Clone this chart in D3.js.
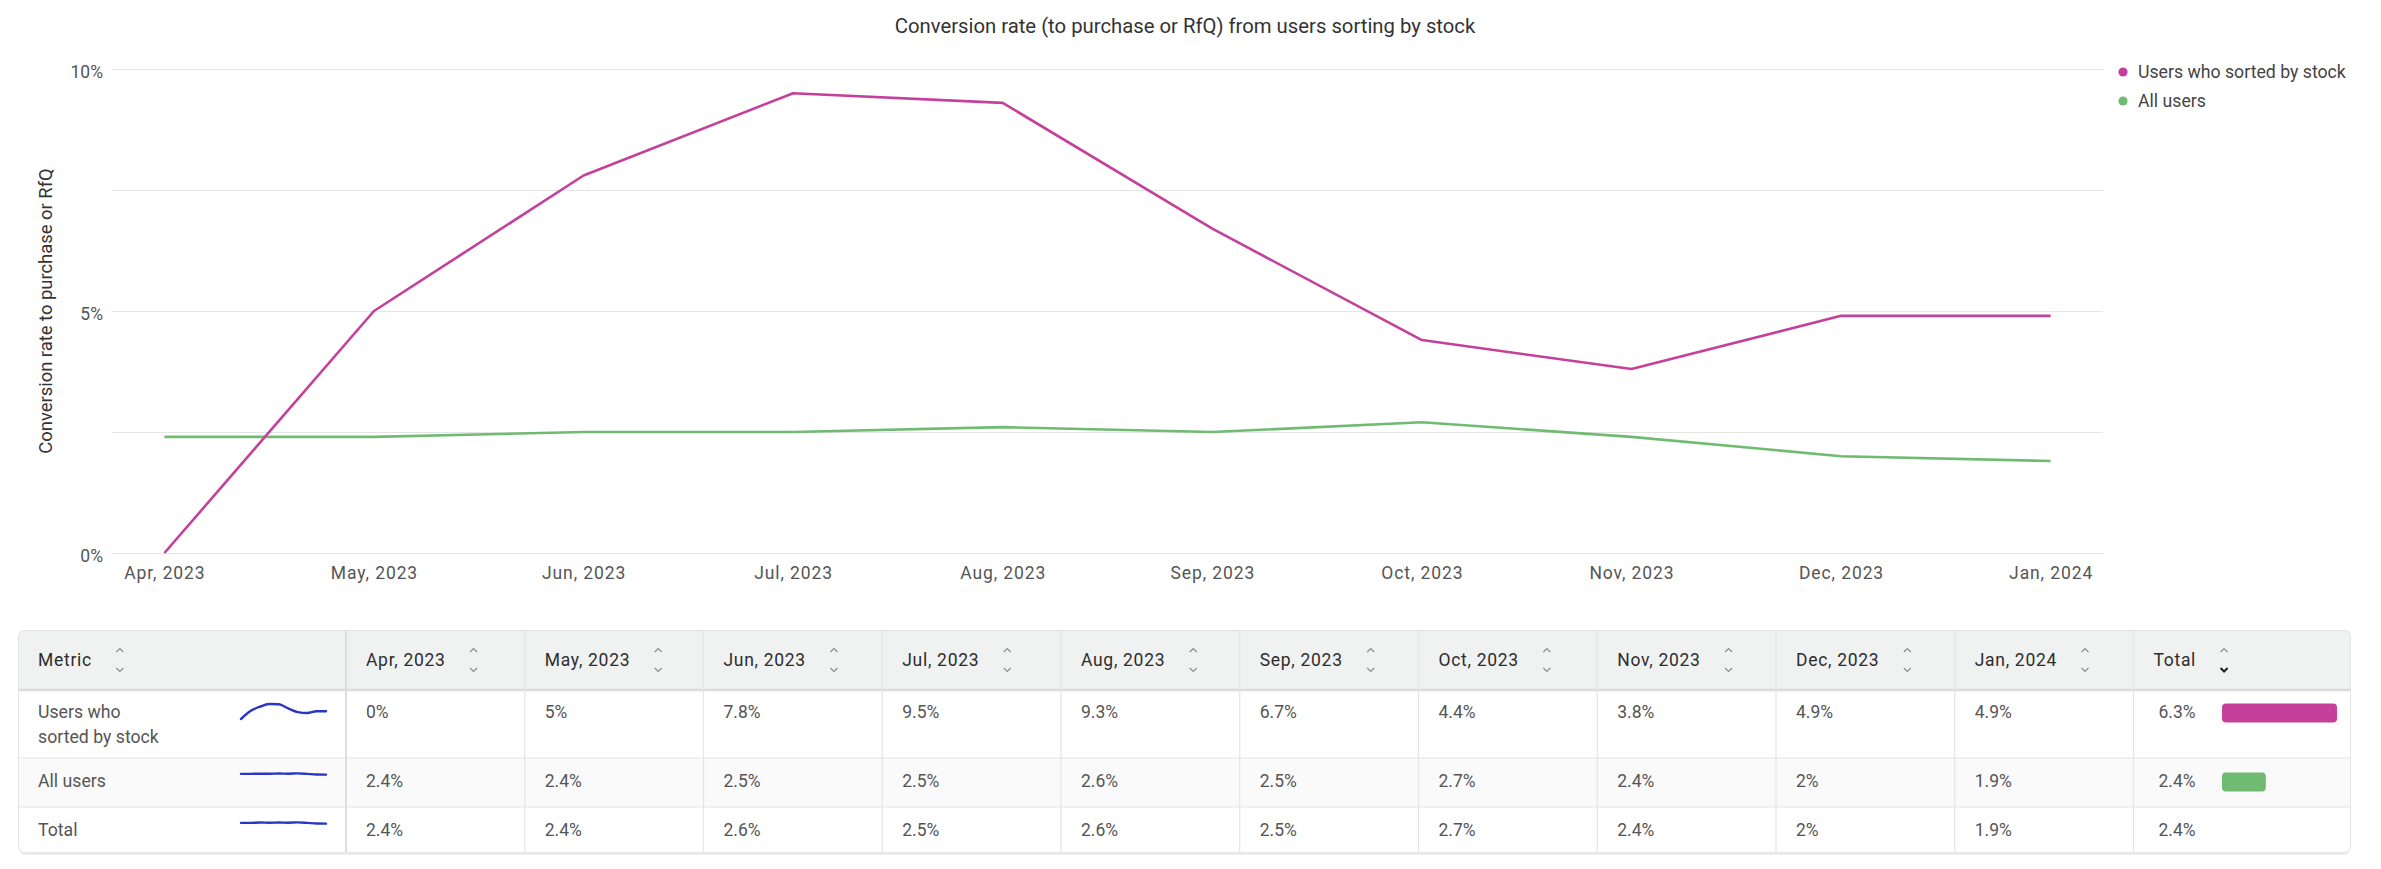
<!DOCTYPE html>
<html><head><meta charset="utf-8">
<script src="https://cdn.jsdelivr.net/npm/d3@7"></script>
<style>
html,body{margin:0;padding:0;background:#fff;}
svg{display:block;}
text{font-family:Roboto,"Noto Sans",sans-serif;}
</style></head><body>
<svg id="c" width="2381" height="869"></svg>
<script>
// ---------- data ----------
const months = ["Apr, 2023","May, 2023","Jun, 2023","Jul, 2023","Aug, 2023","Sep, 2023","Oct, 2023","Nov, 2023","Dec, 2023","Jan, 2024"];
const sortedByStock = [0, 5, 7.8, 9.5, 9.3, 6.7, 4.4, 3.8, 4.9, 4.9];
const allUsers      = [2.4, 2.4, 2.5, 2.5, 2.6, 2.5, 2.7, 2.4, 2, 1.9];
const totalRow      = [2.4, 2.4, 2.6, 2.5, 2.6, 2.5, 2.7, 2.4, 2, 1.9];
const rowTotals     = [6.3, 2.4, 2.4];
const seriesNames   = ["Users who sorted by stock", "All users"];
const rowNames      = [["Users who","sorted by stock"], ["All users"], ["Total"]];
const yTicks        = [0, 2.5, 5, 7.5, 10];
const yTickLabels   = ["0%", "", "5%", "", "10%"];
const title         = "Conversion rate (to purchase or RfQ) from users sorting by stock";
const yTitle        = "Conversion rate to purchase or RfQ";
const colors        = ["#c4409a", "#70bb72"];
const sparkColor    = "#2a34c6";

const svg = d3.select("#c");
const fmt = v => (Math.round(v*10)/10).toString() + "%";

// ---------- chart ----------
const P = {left:112, right:2103, top:69, bottom:553};
const x = d3.scalePoint().domain(months).range([P.left, P.right]).padding(0.25);
const y = d3.scaleLinear().domain([0, 10]).range([P.bottom, P.top]);

svg.append("text").attr("x", 1185).attr("y", 26).attr("text-anchor","middle")
  .attr("dominant-baseline","central").attr("font-size", 20.3).attr("fill","#333").text(title);

const yAxis = svg.append("g").attr("transform", `translate(${P.left},0)`)
  .call(d3.axisLeft(y).tickValues(yTicks).tickFormat((d,i)=>yTickLabels[i])
        .tickSize(-(P.right-P.left)).tickPadding(9));
yAxis.select(".domain").remove();
yAxis.selectAll(".tick line").attr("stroke","#e5e5e5");
yAxis.selectAll(".tick text").attr("font-size",17.5).attr("fill","#555")
  .attr("font-family","Roboto").attr("dy","0.5em");

const xAxis = svg.append("g").attr("transform", `translate(0,${P.bottom})`)
  .call(d3.axisBottom(x).tickSize(0).tickPadding(14));
xAxis.select(".domain").remove();
xAxis.selectAll(".tick text").attr("font-size",17.5).attr("fill","#555").attr("font-family","Roboto")
  .attr("letter-spacing","0.9px");

svg.append("text").attr("transform", `translate(45,${(P.top+P.bottom)/2}) rotate(-90)`)
  .attr("text-anchor","middle").attr("dominant-baseline","central")
  .attr("font-family","'Liberation Sans',Arial,sans-serif").attr("font-size",18.4).attr("fill","#333").text(yTitle);

const line = d3.line().x((d,i)=>x(months[i])).y(d=>y(d));
[allUsers, sortedByStock].forEach((s, k) => {
  const idx = k === 0 ? 1 : 0;
  svg.append("path").datum(s).attr("d", line).attr("fill","none")
    .attr("stroke", colors[idx]).attr("stroke-width", 2.6).attr("stroke-linejoin","round");
});

const lg = svg.append("g");
seriesNames.forEach((n,i) => {
  lg.append("circle").attr("cx",2123).attr("cy",72 + i*29).attr("r",4.6).attr("fill",colors[i]);
  lg.append("text").attr("x",2138).attr("y",72 + i*29).attr("dominant-baseline","central")
    .attr("font-size",17.7).attr("fill","#444").text(n);
});

// ---------- table ----------
const T = {left:18, right:2351, top:630, head:690, bottom:853};
const rowTops = [691, 758, 807];
const rowBots = [758, 807, 853];
const textOff = [21, 23, 23];
const sparkOff = [20.5, 16, 16];
const metricRight = 346;
const col = d3.scaleBand().domain(months).range([metricRight, 2133.5]);
const totalLeft = 2133.5;

const defs = svg.append("defs");
defs.append("clipPath").attr("id","tclip").append("rect")
  .attr("x",T.left).attr("y",T.top).attr("width",T.right-T.left).attr("height",T.bottom-T.top).attr("rx",6);

svg.append("rect").attr("x",T.left+1).attr("y",T.top+2).attr("width",T.right-T.left-2)
  .attr("height",T.bottom-T.top).attr("rx",6).attr("fill","#ececec");
const tg = svg.append("g").attr("clip-path","url(#tclip)");
tg.append("rect").attr("x",T.left).attr("y",T.top).attr("width",T.right-T.left).attr("height",T.bottom-T.top).attr("fill","#fff");
tg.append("rect").attr("x",T.left).attr("y",T.top).attr("width",T.right-T.left).attr("height",T.head-T.top).attr("fill","#f0f1f1");
tg.append("rect").attr("x",T.left).attr("y",rowTops[1]).attr("width",T.right-T.left).attr("height",rowBots[1]-rowTops[1]).attr("fill","#fafafa");

tg.append("line").attr("x1",T.left).attr("x2",T.right).attr("y1",T.head).attr("y2",T.head).attr("stroke","#dcdcdc").attr("stroke-width",2.5);
[rowTops[1], rowTops[2]].forEach(yy => tg.append("line").attr("x1",T.left).attr("x2",T.right).attr("y1",yy).attr("y2",yy).attr("stroke","#e4e4e4").attr("stroke-width",1.2));
tg.append("line").attr("x1",metricRight).attr("x2",metricRight).attr("y1",T.top).attr("y2",T.bottom).attr("stroke","#dedede").attr("stroke-width",2);
months.slice(1).concat(["__total"]).forEach(m => {
  const xx = m === "__total" ? totalLeft : col(m);
  tg.append("line").attr("x1",xx).attr("x2",xx).attr("y1",T.top).attr("y2",T.bottom).attr("stroke","#e4e4e4").attr("stroke-width",1.2);
});
svg.append("rect").attr("x",T.left+0.5).attr("y",T.top+0.5).attr("width",T.right-T.left-1).attr("height",T.bottom-T.top-1)
  .attr("rx",6).attr("fill","none").attr("stroke","#e3e3e3");

const headY = 660;
function arrows(cx, active) {
  tg.append("path").attr("d",`M${cx-3.5},${headY-8} L${cx},${headY-11.5} L${cx+3.5},${headY-8}`)
    .attr("fill","none").attr("stroke","#8c8c8c").attr("stroke-width",1.2);
  tg.append("path").attr("d",`M${cx-3.5},${headY+8} L${cx},${headY+11.5} L${cx+3.5},${headY+8}`)
    .attr("fill","none").attr("stroke", active ? "#222" : "#8c8c8c").attr("stroke-width", active ? 2 : 1.2);
}
function header(label, x0, active) {
  const t = tg.append("text").attr("x",x0).attr("y",headY).attr("dominant-baseline","central")
    .attr("font-size",17.5).attr("fill","#2d2d2d").attr("letter-spacing","0.7px").text(label);
  arrows(x0 + t.node().getComputedTextLength() + 28, active);
}
header("Metric", 38, false);
months.forEach(m => header(m, col(m) + 20, false));
header("Total", totalLeft + 20, true);

const rows = [sortedByStock, allUsers, totalRow];
const sx = d3.scaleLinear().domain([0, months.length-1]).range([241, 326]);
const sy = d3.scaleLinear().domain([0, 9.5]).range([0, -15]);
const barX = d3.scaleLinear().domain([0, 6.3]).range([2222, 2337]);
rows.forEach((vals, r) => {
  const cy = rowTops[r] + textOff[r];
  rowNames[r].forEach((ln, j) => {
    tg.append("text").attr("x",38).attr("y",cy + j*25).attr("dominant-baseline","central")
      .attr("font-size",17.7).attr("fill","#555").text(ln);
  });
  const ext = d3.extent(vals);
  const mid = (ext[0] + ext[1]) / 2;
  const base = rowTops[r] + sparkOff[r];
  const sl = d3.line().x((d,i)=>sx(i)).y(d=>base + sy(d) - sy(mid)).curve(d3.curveMonotoneX);
  tg.append("path").datum(vals).attr("d", sl).attr("fill","none").attr("stroke",sparkColor)
    .attr("stroke-width",2.4).attr("stroke-linecap","round");
  vals.forEach((v,i) => {
    tg.append("text").attr("x", col(months[i]) + 20).attr("y", cy).attr("dominant-baseline","central")
      .attr("font-size",17.5).attr("fill","#555").text(fmt(v));
  });
  tg.append("text").attr("x", totalLeft + 25).attr("y", cy).attr("dominant-baseline","central")
    .attr("font-size",17.5).attr("fill","#555").text(fmt(rowTotals[r]));
  if (r < 2) {
    tg.append("rect").attr("x", barX(0)).attr("y", cy - 8.5).attr("width", barX(rowTotals[r]) - barX(0))
      .attr("height", 19).attr("rx", 4).attr("fill", colors[r]);
  }
});
</script>
</body></html>
